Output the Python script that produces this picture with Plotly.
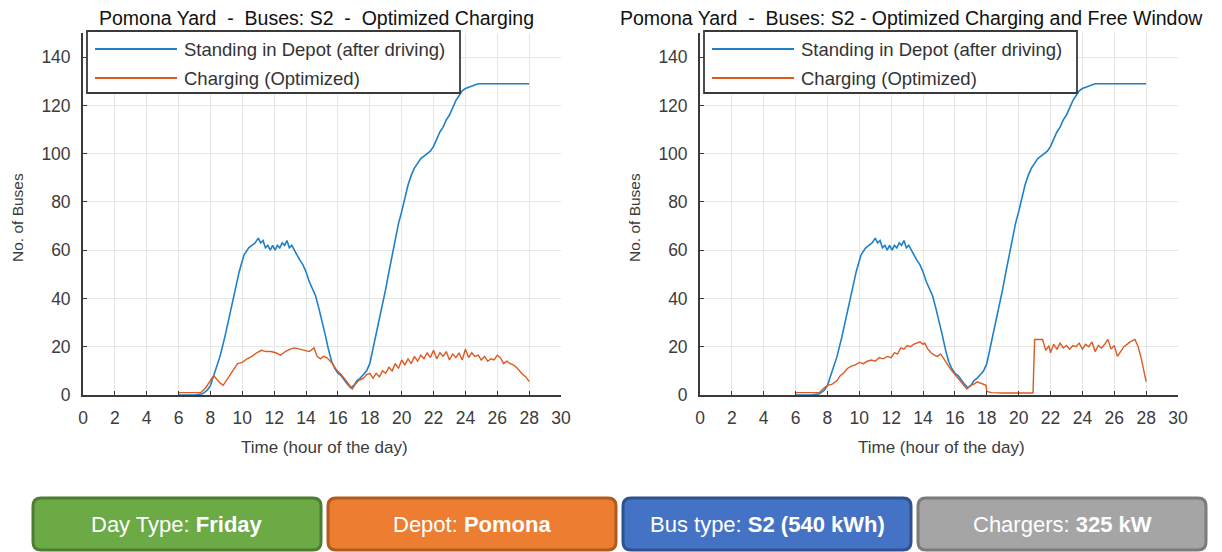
import plotly.graph_objects as go

# ---- data ------------------------------------------------------------------
hours_standing = [6, 7, 7.5, 7.8, 8.0, 8.3, 8.6, 8.9, 9.2, 9.5, 9.8, 10.1, 10.4, 10.6, 10.8,
                  11.0, 11.15, 11.3, 11.45, 11.6, 11.75, 11.9, 12.05, 12.2, 12.35, 12.5, 12.65,
                  12.8, 12.95, 13.1, 13.25, 13.4, 13.6, 13.8, 14.0, 14.2, 14.4, 14.6, 14.8, 15.0,
                  15.2, 15.4, 15.6, 15.8, 16.0, 16.2, 16.4, 16.6, 16.8, 17.0, 17.2, 17.4, 17.6,
                  17.8, 18.0, 18.2, 18.4, 18.6, 18.8, 19.0, 19.2, 19.4, 19.6, 19.8, 20.0, 20.2,
                  20.4, 20.6, 20.8, 21.0, 21.2, 21.4, 21.6, 21.8, 22.0, 22.2, 22.4, 22.6, 22.8,
                  23.0, 23.2, 23.4, 23.6, 23.8, 24.0, 24.2, 24.4, 24.6, 24.8, 25.0, 25.5, 26, 27, 28]
standing = [0, 0, 0.5, 2, 4, 10, 16, 24, 33, 42, 51, 58, 61, 62, 63,
            65, 63, 64, 61, 62, 60, 62, 60, 62, 61, 63, 62,
            64, 61, 62, 60, 58, 56, 54, 51, 47, 44, 41, 36, 31,
            25, 19, 14, 11, 9, 8, 6, 4.5, 3, 4, 6, 7, 8.5,
            10, 13, 19, 25, 31, 37, 44, 51, 58, 65, 71, 76, 82,
            87, 91, 94, 96, 98, 99, 100, 101, 103, 106, 109, 111, 114,
            116, 119, 122, 124, 126, 127, 127.5, 128, 128.5, 129, 129, 129, 129, 129, 129]

hours_charge_opt = [6.0, 7.0, 7.4, 7.7, 8.0, 8.2, 8.4, 8.6, 8.8, 9.0, 9.25, 9.5, 9.7, 10.0, 10.3,
                    10.6, 10.9, 11.2, 11.5, 11.8, 12.1, 12.4, 12.7, 13.0, 13.3, 13.6, 13.9, 14.2,
                    14.5, 14.7, 14.9, 15.1, 15.3, 15.6, 15.9, 16.2, 16.5, 16.8, 16.9, 17.1, 17.3,
                    17.6, 17.8, 18.0, 18.2, 18.4, 18.6, 18.8, 19.0, 19.2, 19.4, 19.6, 19.8, 20.0,
                    20.2, 20.4, 20.6, 20.8, 21.0, 21.2, 21.4, 21.6, 21.8, 22.0, 22.2, 22.4, 22.6,
                    22.8, 23.0, 23.2, 23.4, 23.6, 23.8, 24.0, 24.2, 24.4, 24.6, 24.8, 25.0, 25.2,
                    25.4, 25.6, 25.8, 26.0, 26.2, 26.4, 26.6, 26.8, 27.0, 27.2, 27.4, 27.6, 27.8, 28.0]
charge_opt = [1, 1, 1, 3, 6, 8, 6.5, 5, 4, 6, 9, 11, 13, 13.5, 15,
              16, 17.5, 18.5, 18, 18, 17.5, 16.5, 18, 19, 19.5, 19, 18.5, 18,
              19.5, 16, 15, 16, 15.5, 13.5, 10.5, 8.5, 6, 3, 2.5, 4.5, 6,
              7, 8.5, 9, 7, 9, 7.5, 10, 9, 11.5, 10, 13, 11, 14.5,
              12.5, 15, 13, 16, 14, 16.5, 15, 17.5, 15.5, 18.5, 15, 17.5, 16,
              18, 14.5, 17, 15.5, 17.5, 14.5, 19, 15.5, 17.5, 16, 16.5, 14.5, 16,
              14, 15, 14.5, 16.5, 15.5, 13, 14, 13, 12.5, 11.5, 10, 8.5, 7.5, 5.5]

hours_charge_free = [6.0, 7.0, 7.5, 7.8, 8.0, 8.3, 8.6, 8.8, 9.0, 9.25, 9.5, 9.75, 10.0, 10.25,
                     10.5, 10.75, 11.0, 11.25, 11.5, 11.75, 12.0, 12.2, 12.4, 12.6, 12.8, 13.0,
                     13.2, 13.4, 13.6, 13.8, 14.0, 14.1, 14.3, 14.5, 14.7, 14.9, 15.1, 15.3, 15.5,
                     15.75, 16.0, 16.25, 16.5, 16.75, 17.0, 17.2, 17.4, 17.6, 17.8, 17.95, 18.0,
                     18.3, 19.0, 20.0, 20.9, 21.0, 21.5, 21.7, 21.9, 22.0, 22.2, 22.4, 22.6, 22.8,
                     23.0, 23.2, 23.4, 23.6, 23.8, 24.0, 24.2, 24.4, 24.6, 24.8, 25.0, 25.2, 25.4,
                     25.6, 25.8, 26.0, 26.2, 26.4, 26.6, 26.8, 27.0, 27.3, 27.5, 27.7, 27.9, 28.0]
charge_free = [1, 1, 1, 3, 4, 4.5, 6, 8, 9, 11, 12, 12.5, 13.5, 13,
               14, 14.5, 14, 15.5, 15, 16, 15.5, 17.5, 17, 19.5, 19, 20.5,
               20, 21, 21.5, 22, 21, 21.5, 19, 17.5, 16.5, 16, 17, 15, 12.5,
               10.5, 8.5, 6.5, 4.5, 2.5, 4, 4.5, 5.5, 5, 4.5, 4, 1.5,
               1, 0.8, 0.8, 0.8, 23, 23, 18.5, 20.5, 17.5, 21, 19, 21.5, 19.5,
               20.5, 19, 20.5, 20, 21.5, 19, 21, 20, 22, 18, 20.5, 19.5, 21,
               23, 19, 20.5, 16, 18, 20, 21, 22, 23, 20, 15, 8, 5.5]

titles = ["Pomona Yard  -  Buses: S2  -  Optimized Charging",
          "Pomona Yard  -  Buses: S2 - Optimized Charging and Free Window"]
series_names = ["Standing in Depot (after driving)", "Charging (Optimized)"]
x_title = "Time (hour of the day)"
y_title = "No. of Buses"
box_labels = ["Day Type: <b>Friday</b>", "Depot: <b>Pomona</b>",
              "Bus type: <b>S2 (540 kWh)</b>", "Chargers: <b>325 kW</b>"]
box_fill = ["#6BAA45", "#ED7D31", "#4472C4", "#A5A5A5"]
box_line = ["#4C7D30", "#B25A1C", "#2F528F", "#7B7B7B"]

# the page body has an 8px margin, so the figure is a little smaller than the window
PAGE_OFF = 8
W, H = 1222 - PAGE_OFF, 552 - PAGE_OFF
BLUE = "#1f80c8"
ORANGE = "#dc5a22"
FONT = "Liberation Sans, Arial, sans-serif"
TXT = "#3c3c3c"


def px(x):
    # window pixel -> paper fraction
    return (x - PAGE_OFF) / W


def py(y):
    return 1 - (y - PAGE_OFF) / H


fig = go.Figure()

panels = [("x", "y", charge_opt, hours_charge_opt),
          ("x2", "y2", charge_free, hours_charge_free)]
for xa, ya, charge, hrs in panels:
    fig.add_trace(go.Scatter(x=hours_standing, y=standing, mode="lines", name=series_names[0],
                             line=dict(color=BLUE, width=1.6), xaxis=xa, yaxis=ya,
                             showlegend=False))
    fig.add_trace(go.Scatter(x=hrs, y=charge, mode="lines", name=series_names[1],
                             line=dict(color=ORANGE, width=1.4), xaxis=xa, yaxis=ya,
                             showlegend=False))

plot_left = [83, 700]
plot_w = 478
y_top, y_bot = 33, 395

axis_common = dict(showline=True, linecolor="#3a3a3a", linewidth=1.8, ticks="inside",
                   ticklen=4, tickcolor="#3a3a3a", showgrid=True, gridcolor="#e6e6e6",
                   gridwidth=1, zeroline=False, automargin=False,
                   tickfont=dict(family=FONT, size=17.5, color=TXT), fixedrange=True)

layout = dict(width=W, height=H, margin=dict(l=0, r=0, t=0, b=0),
              paper_bgcolor="white", plot_bgcolor="white", font=dict(family=FONT),
              showlegend=False)

for i in range(2):
    sfx = "" if i == 0 else "2"
    x0 = plot_left[i]
    layout["xaxis" + sfx] = dict(axis_common, domain=[px(x0), px(x0 + plot_w)], range=[0, 30],
                                 dtick=2, tick0=0, anchor="y" + sfx, ticklabelstandoff=6)
    layout["yaxis" + sfx] = dict(axis_common, domain=[py(y_bot), py(y_top)], range=[0, 150],
                                 tickvals=list(range(0, 141, 20)), anchor="x" + sfx,
                                 ticklabelstandoff=7)

fig.update_layout(**layout)

# panel titles and axis titles
title_x = [316, 911]
for i, t in enumerate(titles):
    x0 = plot_left[i]
    fig.add_annotation(text=t, x=px(title_x[i]), y=py(18), xref="paper", yref="paper",
                       showarrow=False, xanchor="center", yanchor="middle",
                       font=dict(family=FONT, size=19.5, color="#111111"))
    fig.add_annotation(text=x_title, x=px(x0 + plot_w / 2 + 2), y=py(447), xref="paper",
                       yref="paper", showarrow=False, xanchor="center", yanchor="middle",
                       font=dict(family=FONT, size=17, color=TXT))
    fig.add_annotation(text=y_title, x=px(x0 - 65), y=py(218), xref="paper", yref="paper",
                       showarrow=False, xanchor="center", yanchor="middle", textangle=-90,
                       font=dict(family=FONT, size=15.5, color=TXT))

    # legend box (drawn by hand so the line samples match the reference length)
    lx0 = x0 + 4
    fig.add_shape(type="rect", x0=px(lx0), x1=px(lx0 + 373), y0=py(93), y1=py(31),
                  xref="paper", yref="paper", fillcolor="white",
                  line=dict(color="#3a3a3a", width=1.8), layer="above")
    for j, (name, col) in enumerate(zip(series_names, [BLUE, ORANGE])):
        ly = 49 + 29 * j
        fig.add_shape(type="line", x0=px(lx0 + 8), x1=px(lx0 + 90), y0=py(ly), y1=py(ly),
                      xref="paper", yref="paper", line=dict(color=col, width=1.8),
                      layer="above")
        fig.add_annotation(text=name, x=px(lx0 + 95), y=py(ly + 1), xref="paper",
                           yref="paper", showarrow=False, xanchor="left", yanchor="middle",
                           font=dict(family=FONT, size=18.5, color="#333333"))


# info boxes along the bottom
def rounded(x0, y0, x1, y1, rx, ry):
    return (f"M{x0 + rx},{y0} L{x1 - rx},{y0} Q{x1},{y0} {x1},{y0 + ry} "
            f"L{x1},{y1 - ry} Q{x1},{y1} {x1 - rx},{y1} L{x0 + rx},{y1} "
            f"Q{x0},{y1} {x0},{y1 - ry} L{x0},{y0 + ry} Q{x0},{y0} {x0 + rx},{y0} Z")


box_x = [33, 328, 623, 918]
box_w = 288
for i, lab in enumerate(box_labels):
    bx0, bx1 = box_x[i], box_x[i] + box_w
    path = rounded(px(bx0), py(550), px(bx1), py(498), 8 / W, 8 / H)
    fig.add_shape(type="path", path=path, xref="paper", yref="paper",
                  fillcolor=box_fill[i], line=dict(color=box_line[i], width=3))
    fig.add_annotation(text=lab, x=px((bx0 + bx1) / 2), y=py(524), xref="paper", yref="paper",
                       showarrow=False, xanchor="center", yanchor="middle",
                       font=dict(family=FONT, size=22, color="white"))

fig.write_html("out.html")
